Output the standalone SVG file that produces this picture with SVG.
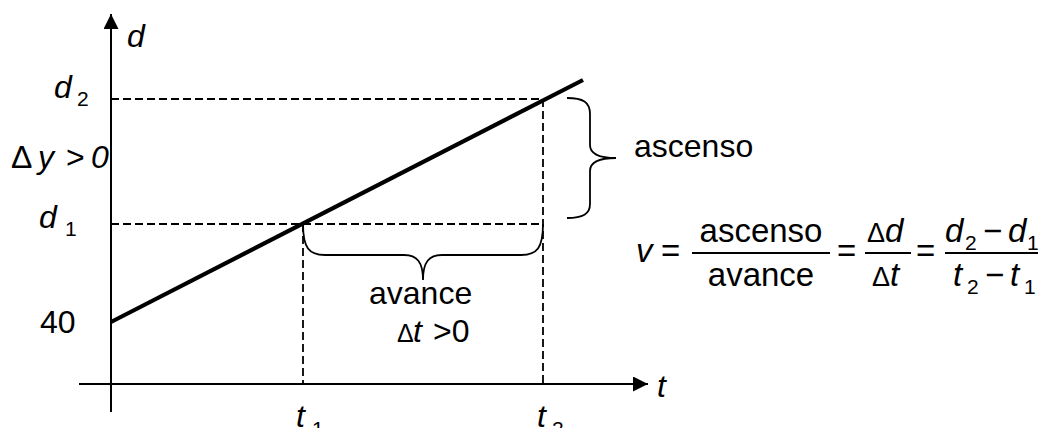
<svg xmlns="http://www.w3.org/2000/svg" width="1042" height="428" viewBox="0 0 1042 428">
<defs>
<style>
text{font-family:"Liberation Sans",Arial,sans-serif;font-size:32px;fill:#000}
.i{font-style:italic}
.s{font-size:21px}
.f{font-size:33px}
.ax{stroke:#000;stroke-width:2;fill:none}
.dash{stroke:#000;stroke-width:1.8;stroke-dasharray:8 4;fill:none}
.br{stroke:#000;stroke-width:1.8;fill:none}
.bar{stroke:#000;stroke-width:2}
</style>
<marker id="ah" markerWidth="16" markerHeight="16" refX="15" refY="7.5" orient="auto" markerUnits="userSpaceOnUse">
<path d="M0,0 L15,7.5 L0,15 Z" fill="#000"/>
</marker>
</defs>
<rect width="1042" height="428" fill="#fff"/>
<g id="axes">
<line class="ax" x1="111" y1="412" x2="111" y2="14" marker-end="url(#ah)"/>
<line class="ax" x1="79" y1="384" x2="648" y2="384" marker-end="url(#ah)"/>
</g>
<g id="guides">
<line class="dash" x1="111" y1="99" x2="543" y2="99"/>
<line class="dash" x1="111" y1="224" x2="543" y2="224"/>
<line class="dash" x1="303" y1="224" x2="303" y2="384"/>
<line class="dash" x1="543" y1="99" x2="543" y2="384"/>
</g>
<g id="line">
<line x1="111" y1="322" x2="583" y2="80" stroke="#000" stroke-width="4.2"/>
</g>
<g id="braces">
<path class="br" d="M303,224 C303,248 309,255 325,255 L404,255 C417,255 423,262 423,280 C423,262 429,255 442,255 L521,255 C537,255 543,248 543,224"/>
<path class="br" d="M567,98 C583,98 590,102 590,114 L590,145 C590,154 598,158 616,158 C598,158 590,162 590,171 L590,204 C590,214 583,218 567,218"/>
</g>
<g id="labels">
<text class="i" x="127" y="47">d</text>
<text class="i" x="54" y="98">d</text><text class="s" x="77" y="106">2</text>
<text x="11" y="168">Δ</text><text class="i" x="38" y="168">y</text><text x="66" y="168">&gt;</text><text class="i" x="91" y="168">0</text>
<text class="i" x="39" y="228">d</text><text class="s" x="65" y="236">1</text>
<text x="40" y="333">40</text>
<text x="634" y="157">ascenso</text>
<text x="369" y="304">avance</text>
<text x="397" y="342" style="font-size:25px">Δ</text><text class="i" x="413" y="342">t</text><text x="433" y="342">&gt;0</text>
<text class="i" x="657" y="397">t</text>
<text class="i" x="296" y="427">t</text><text class="s" x="312" y="436">1</text>
<text class="i" x="537" y="427">t</text><text class="s" x="552" y="436">2</text>
</g>
<g id="formula">
<text class="i f" x="636" y="262">v</text>
<text class="f" x="661" y="262">=</text>
<line class="bar" x1="692" y1="253" x2="830" y2="253"/>
<text class="f" x="761" y="242" text-anchor="middle">ascenso</text>
<text class="f" x="761" y="286" text-anchor="middle">avance</text>
<text class="f" x="837" y="262">=</text>
<line class="bar" x1="865" y1="253" x2="911" y2="253"/>
<text class="f" x="867" y="242" style="font-size:27px">Δ</text><text class="i f" x="885" y="242">d</text>
<text class="f" x="872" y="286" style="font-size:27px">Δ</text><text class="i f" x="890" y="286">t</text>
<text class="f" x="916" y="262">=</text>
<line class="bar" x1="945" y1="253" x2="1038" y2="253"/>
<text class="i f" x="945" y="242">d</text><text class="s" x="965" y="250">2</text><text class="f" x="983" y="242">−</text><text class="i f" x="1008" y="242">d</text><text class="s" x="1027" y="250">1</text>
<text class="i f" x="953" y="286">t</text><text class="s" x="967" y="294">2</text><text class="f" x="985" y="286">−</text><text class="i f" x="1010" y="286">t</text><text class="s" x="1024" y="294">1</text>
</g>
</svg>
